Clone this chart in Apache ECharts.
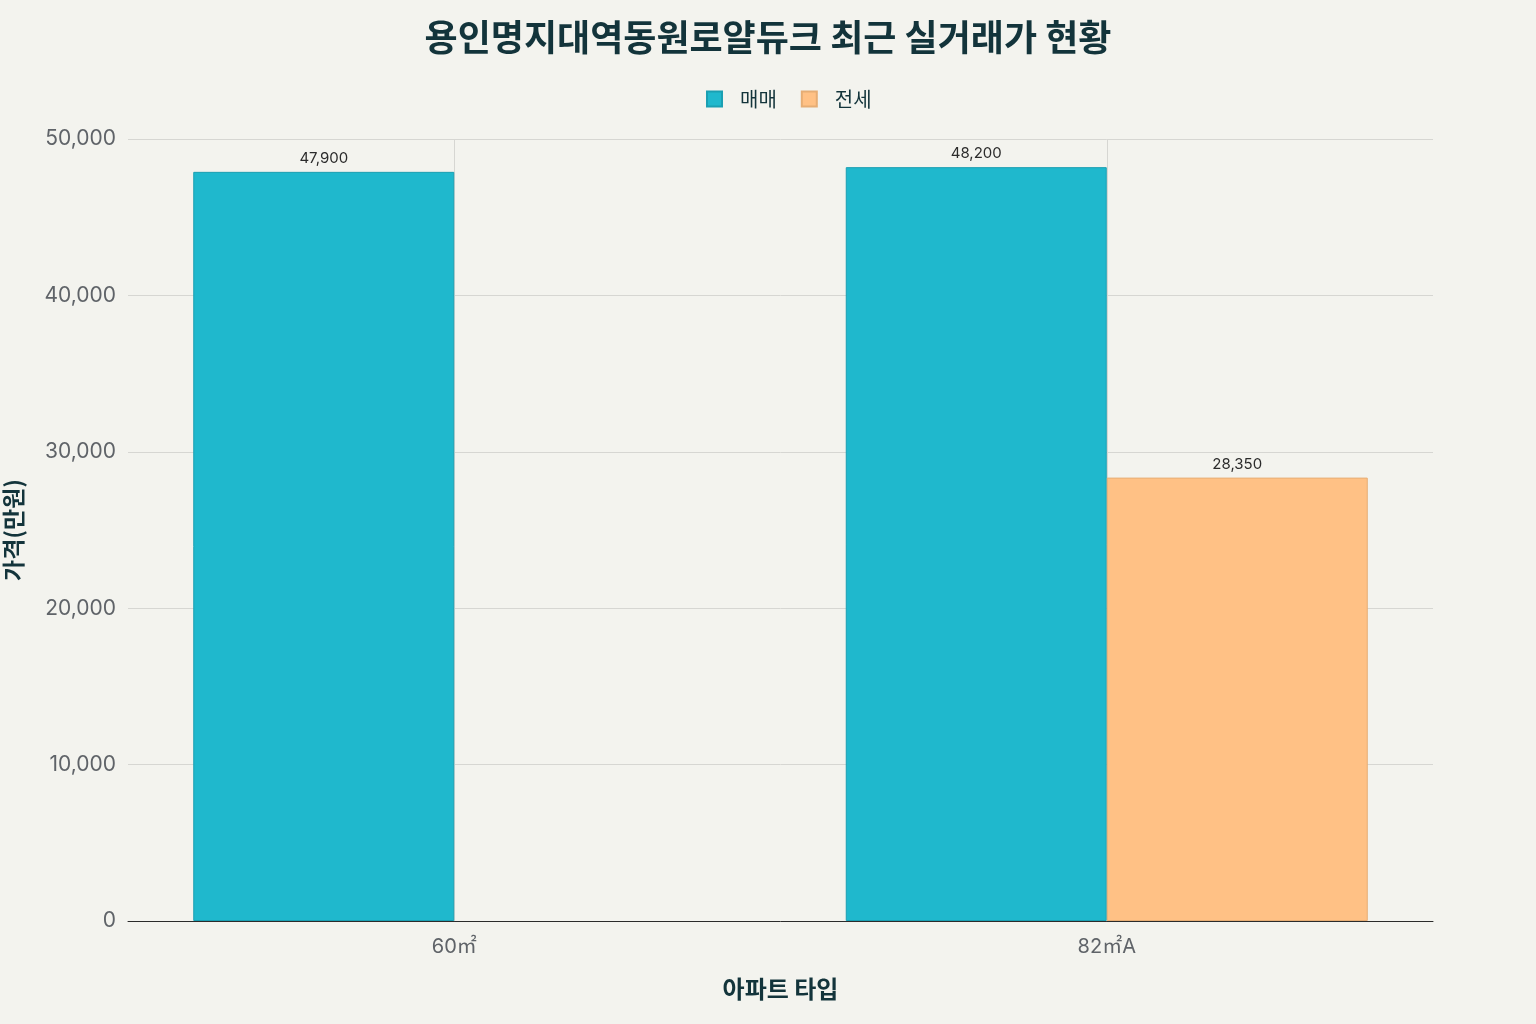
<!DOCTYPE html>
<html>
<head>
<meta charset="utf-8">
<script src="https://cdn.jsdelivr.net/npm/echarts@6/dist/echarts.min.js"></script>
<style>
html, body { margin: 0; padding: 0; background: #F3F3EE; }
#main { width: 1536px; height: 1024px; }
</style>
</head>
<body>
<div id="main"></div>
<script>
var types = ['60㎡', '82㎡A'];
var saleValues = [47900, 48200];
var rentValues = [null, 28350];
var yTicks = [0, 10000, 20000, 30000, 40000, 50000];

var font = 'Inter, "Noto Sans CJK KR", sans-serif';
var myChart = echarts.init(document.getElementById('main'));

function fmt(v) {
	return v.toLocaleString('en-US');
}

var option = {
	backgroundColor: '#F3F3EE',
	textStyle: { fontFamily: font },
	title: {
		text: '용인명지대역동원로얄듀크 최근 실거래가 현황',
		left: 'center',
		top: 14,
		textStyle: {
			fontFamily: '"Noto Sans CJK KR", sans-serif',
			fontSize: 36,
			fontWeight: 'bold',
			color: '#13343B'
		}
	},
	legend: {
		top: 84,
		left: 701,
		itemWidth: 15,
		itemHeight: 15,
		itemGap: 24,
		icon: 'rect',
		data: ['매매', '전세'],
		textStyle: {
			fontFamily: '"Noto Sans CJK KR", sans-serif',
			fontSize: 20,
			color: '#13343B',
			padding: [0, 0, 0, 13]
		}
	},
	grid: {
		left: 128,
		right: 103,
		top: 139,
		bottom: 103,
		containLabel: false,
		outerBoundsMode: 'none'
	},
	xAxis: {
		type: 'category',
		data: types,
		name: '아파트 타입',
		nameLocation: 'middle',
		nameGap: 56,
		nameTextStyle: {
			fontFamily: '"Noto Sans CJK KR", sans-serif',
			fontSize: 24,
			fontWeight: 'bold',
			color: '#13343B'
		},
		axisLine: { lineStyle: { color: '#2b2b2b', width: 1 } },
		axisTick: { show: false },
		splitLine: { show: false },
		axisLabel: {
			fontSize: 20,
			color: '#5f6368',
			margin: 16
		}
	},
	yAxis: {
		type: 'value',
		min: 0,
		max: 50000,
		interval: 10000,
		name: '가격(만원)',
		nameLocation: 'middle',
		nameGap: 103,
		nameRotate: 90,
		nameTextStyle: {
			fontFamily: '"Noto Sans CJK KR", sans-serif',
			fontSize: 23,
			fontWeight: 'bold',
			color: '#13343B'
		},
		axisLine: { show: false },
		axisTick: { show: false },
		splitLine: { lineStyle: { color: '#d6d6d2', width: 1 } },
		axisLabel: {
			fontSize: 21,
			color: '#5f6368',
			margin: 12,
			formatter: function(v) { return yTicks.indexOf(v) >= 0 ? fmt(v) : ''; }
		}
	},
	series: [{
		name: '매매',
		type: 'bar',
		data: saleValues,
		barGap: '0%',
		barCategoryGap: '20%',
		z: 2,
		itemStyle: {
			color: '#1FB8CD',
			borderColor: '#1a9fb2',
			borderWidth: 1
		},
		label: {
			show: true,
			position: 'top',
			distance: 6,
			fontSize: 15,
			color: '#2b2b2b',
			formatter: function(p) { return fmt(p.value); }
		}
	}, {
		name: '전세',
		type: 'bar',
		data: rentValues,
		z: 2,
		itemStyle: {
			color: '#FFC185',
			borderColor: '#e6ad74',
			borderWidth: 1
		},
		label: {
			show: true,
			position: 'top',
			distance: 6,
			fontSize: 15,
			color: '#2b2b2b',
			formatter: function(p) { return p.value == null ? '' : fmt(p.value); }
		}
	}, {
		name: 'grid-x',
		type: 'line',
		data: [null, null],
		z: 1,
		silent: true,
		showSymbol: false,
		markLine: {
			silent: true,
			symbol: 'none',
			z: 1,
			label: { show: false },
			lineStyle: { color: '#d6d6d2', type: 'solid', width: 1 },
			data: [{ xAxis: types[0] }, { xAxis: types[1] }]
		}
	}]
};
myChart.setOption(option);
</script>
</body>
</html>
